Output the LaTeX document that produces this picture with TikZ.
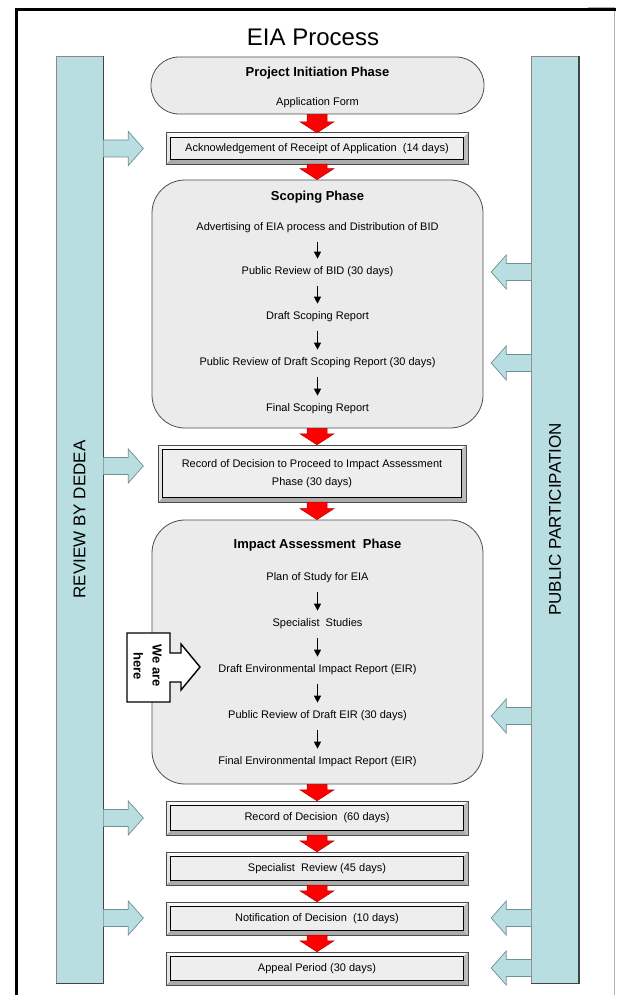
\documentclass[tikz,border=0pt]{standalone}
\usepackage{fontspec}
\setmainfont{Liberation Sans}
\usetikzlibrary{arrows.meta,calc}
\definecolor{tealfill}{HTML}{B8DEE1}
\definecolor{tealline}{HTML}{6F8F93}
\definecolor{barline}{HTML}{8A8A8A}
\definecolor{bardark}{HTML}{3F4648}
\definecolor{phasefill}{HTML}{EBEBEB}
\definecolor{phaseline}{HTML}{4D4D4D}
\definecolor{facefill}{HTML}{EEEEEE}
\definecolor{bevT}{HTML}{FAFAFA}
\definecolor{bevL}{HTML}{E4E4E4}
\definecolor{bevR}{HTML}{BDBDBD}
\definecolor{bevB}{HTML}{ABABAB}
\definecolor{redfill}{HTML}{FF0000}
\definecolor{redline}{HTML}{B00000}
\newcommand\bevelit[1]{%
  \fill[bevT] (#1.north west) -- (#1.north east) -- ([shift={(-4.5pt,-4.5pt)}]#1.north east) -- ([shift={(4.5pt,-4.5pt)}]#1.north west) -- cycle;
  \fill[bevB] (#1.south west) -- (#1.south east) -- ([shift={(-4.5pt,4.5pt)}]#1.south east) -- ([shift={(4.5pt,4.5pt)}]#1.south west) -- cycle;
  \fill[bevL] (#1.north west) -- (#1.south west) -- ([shift={(4.5pt,4.5pt)}]#1.south west) -- ([shift={(4.5pt,-4.5pt)}]#1.north west) -- cycle;
  \fill[bevR] (#1.north east) -- (#1.south east) -- ([shift={(-4.5pt,4.5pt)}]#1.south east) -- ([shift={(-4.5pt,-4.5pt)}]#1.north east) -- cycle;
  \draw[phaseline, line width=0.6pt] (#1.north west) rectangle (#1.south east);
  \draw[black, line width=0.8pt] ([shift={(4.5pt,-4.5pt)}]#1.north west) rectangle ([shift={(-4.5pt,4.5pt)}]#1.south east);
}
\newcommand\redarr[2]{%
  \filldraw[fill=redfill, draw=redline, line width=0.5pt] let \p1=(#1.south), \p2=(#2.north) in
    (307pt,\y1) -- (327pt,\y1) -- (327pt,\y2+11pt) -- (334pt,\y2+11pt) -- (317pt,\y2)
    -- (300pt,\y2+11pt) -- (307pt,\y2+11pt) -- cycle;}
\newcommand\blueright[1]{%
  \filldraw[fill=tealfill, draw=tealline, line width=0.7pt] let \p1=(lbar.east |- 0,#1) in
    (\x1,\y1+8.5pt) -- (\x1+25pt,\y1+8.5pt) -- (\x1+25pt,\y1+17pt) -- (\x1+40pt,\y1)
    -- (\x1+25pt,\y1-17pt) -- (\x1+25pt,\y1-8.5pt) -- (\x1,\y1-8.5pt);}
\newcommand\blueleft[1]{%
  \filldraw[fill=tealfill, draw=tealline, line width=0.7pt] let \p1=(rbar.west |- 0,#1) in
    (\x1,\y1+8.5pt) -- (\x1-25pt,\y1+8.5pt) -- (\x1-25pt,\y1+17pt) -- (\x1-40pt,\y1)
    -- (\x1-25pt,\y1-17pt) -- (\x1-25pt,\y1-8.5pt) -- (\x1,\y1-8.5pt);}
\begin{document}
\begin{tikzpicture}[x=1pt,y=-1pt,
  every node/.style={inner sep=0pt, font=\fontsize{11}{13}\selectfont},
  phase/.style={draw=phaseline, fill=phasefill, line width=0.8pt, rounded corners=33pt},
  ttl/.style={font=\bfseries\fontsize{13}{15}\selectfont},
  bevbox/.style={fill=facefill, align=center},
  bar/.style={fill=tealfill, draw=barline, line width=0.6pt, minimum width=47, minimum height=927},
  bartext/.style={rotate=90, font=\fontsize{17}{20}\selectfont},
  blk/.style={-{Triangle[length=7pt,width=7pt]}, line width=1.1pt, shorten <=9pt, shorten >=8pt}]
\useasboundingbox (0,0) rectangle (616,995);
% outer frame
\draw[gray!60, line width=0.8pt] (588,7) -- (614,7) -- (614,995);
\draw[black, line width=2.8pt] (16.3,995) -- (16.3,9.7) -- (616,9.7);
% title
\node[font=\fontsize{24}{28}\selectfont] (title) at (313,37) {EIA Process};
% side bars
\node[bar] (lbar) at (79.5,519.5) {};
\draw[bardark, line width=1.6pt] (lbar.north east) -- (lbar.south east) -- (lbar.south west);
\node[bartext] (lbart) at (lbar) {REVIEW BY DEDEA};
\node[bar] (rbar) at (555,519.5) {};
\draw[bardark, line width=1.6pt] (rbar.north east) -- (rbar.south east) -- (rbar.south west);
\node[bartext] (rbart) at (rbar) {PUBLIC PARTICIPATION};
% project initiation
\node[phase, rounded corners=28pt, minimum width=333, minimum height=57] (proj) at (317.5,85.5) {};
\node[ttl] (projt) at (317.5,73) {Project Initiation Phase};
\node (appf) at (317.5,103) {Application Form};
% acknowledgement
\node[bevbox, minimum width=302, minimum height=31] (ack) at (317,148.5) {Acknowledgement of Receipt of Application\ \ (14 days)};
\bevelit{ack}
% scoping
\node[phase, minimum width=331, minimum height=248] (scop) at (317.5,304) {};
\node[ttl] (scopt) at (317.5,197) {Scoping Phase};
\node (s1) at (317.5,228) {Advertising of EIA process and Distribution of BID};
\node (s2) at (317.5,272) {Public Review of BID (30 days)};
\node (s3) at (317.5,317) {Draft Scoping Report};
\node (s4) at (317.5,363) {Public Review of Draft Scoping Report (30 days)};
\node (s5) at (317.5,409) {Final Scoping Report};
\draw[blk] (s1) -- (s2);
\draw[blk] (s2) -- (s3);
\draw[blk] (s3) -- (s4);
\draw[blk] (s4) -- (s5);
% record to proceed
\node[bevbox, minimum width=308, minimum height=57, font=\fontsize{11}{18}\selectfont] (proc) at (312,473.5) {Record of Decision to Proceed to Impact Assessment\\Phase (30 days)};
\bevelit{proc}
% impact assessment
\node[phase, minimum width=331, minimum height=264] (imp) at (317.5,652) {};
\node[ttl] (impt) at (317.5,545) {Impact Assessment\ \ Phase};
\node (i1) at (317.5,578) {Plan of Study for EIA};
\node (i2) at (317.5,624) {Specialist\ \ Studies};
\node (i3) at (317.5,670) {Draft Environmental Impact Report (EIR)};
\node (i4) at (317.5,716) {Public Review of Draft EIR (30 days)};
\node (i5) at (317.5,762) {Final Environmental Impact Report (EIR)};
\draw[blk] (i1) -- (i2);
\draw[blk] (i2) -- (i3);
\draw[blk] (i3) -- (i4);
\draw[blk] (i4) -- (i5);
% we are here
\filldraw[fill=white, draw=black, line width=1.4pt] (127,633) -- (170,633) -- (170,653) -- (181,653) -- (181,644) -- (200,667) -- (181,690) -- (181,682) -- (170,682) -- (170,702) -- (127,702) -- cycle;
\node[rotate=-90, align=center, font=\bfseries\fontsize{13}{19}\selectfont] (here) at (147.5,666) {We are\\here};
% final boxes
\node[bevbox, minimum width=302, minimum height=34] (rod) at (317,818) {Record of Decision\ \ (60 days)};
\bevelit{rod}
\node[bevbox, minimum width=302, minimum height=33] (spec) at (317,868.5) {Specialist\ \ Review (45 days)};
\bevelit{spec}
\node[bevbox, minimum width=302, minimum height=33] (notif) at (317,918.5) {Notification of Decision\ \ (10 days)};
\bevelit{notif}
\node[bevbox, minimum width=302, minimum height=33] (appeal) at (317,968.5) {Appeal Period (30 days)};
\bevelit{appeal}
% red arrows
\redarr{proj}{ack}
\redarr{ack}{scop}
\redarr{scop}{proc}
\redarr{proc}{imp}
\redarr{imp}{rod}
\redarr{rod}{spec}
\redarr{spec}{notif}
\redarr{notif}{appeal}
% blue arrows
\blueright{148.5}
\blueright{466}
\blueright{818}
\blueright{918}
\blueleft{272}
\blueleft{363}
\blueleft{716}
\blueleft{918}
\blueleft{968}
\end{tikzpicture}
\end{document}
